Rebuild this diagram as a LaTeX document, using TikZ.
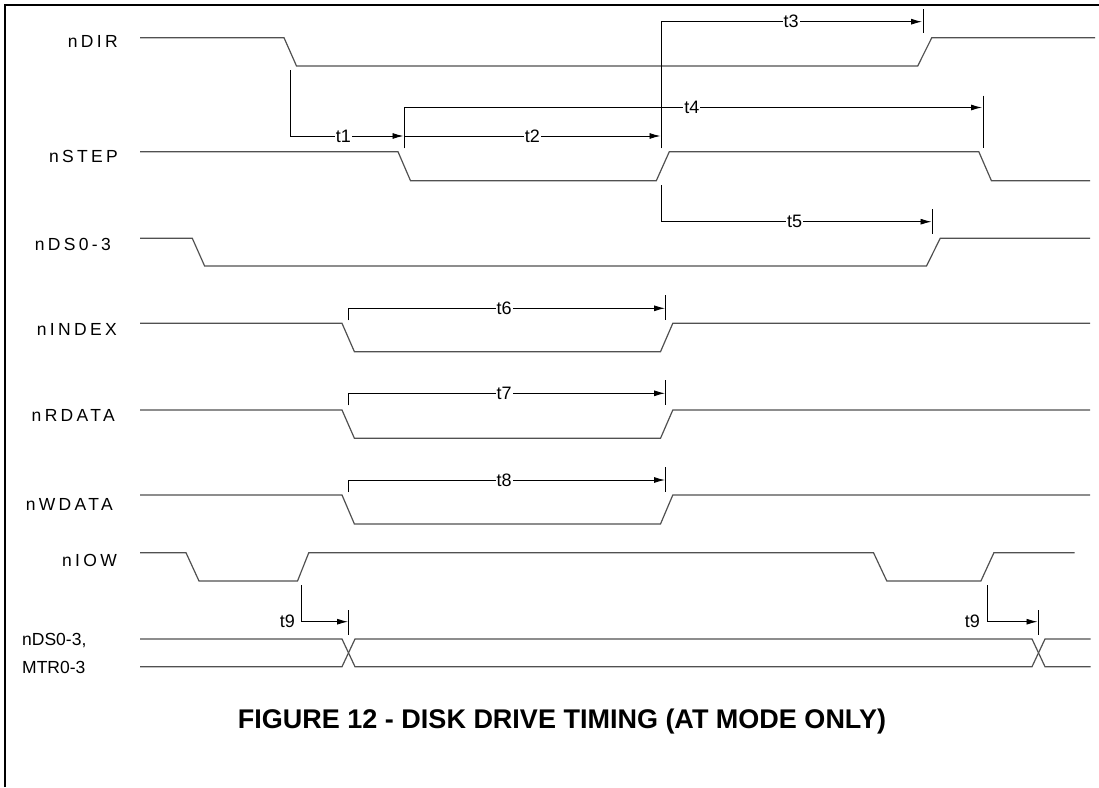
\documentclass[tikz,border=0pt]{standalone}
\usepackage{fontspec}
\setmainfont{Liberation Sans}
\newfontfamily\sigfont[LetterSpace=19]{Liberation Sans}
\usepackage{tikz}
\usetikzlibrary{arrows.meta}

\definecolor{sigcol}{RGB}{80,80,80}
\tikzset{
  sig/.style={draw=sigcol,line width=1.2pt},
  dimline/.style={draw=black,line width=0.9pt},
  dimarrow/.style={dimline,-{Latex[length=11pt,width=6pt]}},
  tlab/.style={fill=white,inner sep=1pt,font=\fontsize{18}{18}\selectfont},
  siglab/.style={anchor=base east,inner sep=0pt,font=\sigfont\fontsize{17.5}{18}\selectfont},
  buslab/.style={anchor=base west,inner sep=0pt,font=\fontsize{17.5}{18}\selectfont}
}

\begin{document}
\begin{tikzpicture}[x=1pt,y=-1pt]
  \useasboundingbox (0,0) rectangle (1099,787);
  \draw[line width=2pt] (5,787) -- (5,5) -- (1099,5);

  % signal names
  \node[siglab] (ndir) at (118,47.7) {nDIR};
  \node[siglab] (nstep) at (118,162.7) {nSTEP};
  \node[siglab] (nds) at (111,250) {nDS0-3};
  \node[siglab] (nindex) at (117,335) {nINDEX};
  \node[siglab] (nrdata) at (115,421.7) {nRDATA};
  \node[siglab] (nwdata) at (113,510.7) {nWDATA};
  \node[siglab] (niow) at (117,566) {nIOW};
  \node[buslab] (busa) at (22,645.3) {nDS0-3,};
  \node[buslab] (busb) at (22,673) {MTR0-3};

  % waveforms
  \draw[sig] (140,37.7) -- (284,37.7) -- (296.5,66) -- (917.7,66) -- (931.8,37.7) -- (1095,37.7);
  \draw[sig] (140,151.7) -- (398,151.7) -- (410.5,180.7) -- (656.3,180.7) -- (669.3,151.7)
    -- (978.8,151.7) -- (991.4,180.7) -- (1090,180.7);
  \draw[sig] (140,238.3) -- (192.3,238.3) -- (204.6,266) -- (926.5,266) -- (940.2,238.3) -- (1090,238.3);
  \foreach \hi/\lo in {323.3/351.7,410/438.3,495/524}
    \draw[sig] (140,\hi) -- (342,\hi) -- (354.4,\lo) -- (660.5,\lo) -- (672.8,\hi) -- (1090,\hi);
  \draw[sig] (140,552.7) -- (186,552.7) -- (199,581) -- (297.5,581) -- (308.8,552.7)
    -- (873.5,552.7) -- (886.8,581) -- (980.9,581) -- (993.9,552.7) -- (1074.6,552.7);
  \draw[sig] (140,639) -- (342,639) -- (355,666.7) -- (1032,666.7) -- (1045,639) -- (1090.7,639);
  \draw[sig] (140,666.7) -- (342,666.7) -- (355,639) -- (1032,639) -- (1045,666.7) -- (1090.7,666.7);

  % timing marks
  \draw[dimarrow] (290.5,70) |- (403.5,136);
  \node[tlab] (t1) at (343.3,136) {t1};
  \draw[dimarrow] (404,148.3) |- (982,107.5);
  \draw[dimline] (983.3,95.7) -- (983.3,148.3);
  \node[tlab] (t4) at (691.8,107.5) {t4};
  \draw[dimarrow] (404,136) -- (660.5,136);
  \node[tlab] (t2) at (532.3,136) {t2};
  \draw[dimarrow] (661.6,148.3) |- (922,21.7);
  \draw[dimline] (923,9.3) -- (923,33.3);
  \node[tlab] (t3) at (791,21.7) {t3};
  \draw[dimarrow] (661.6,185) |- (931.5,221.7);
  \draw[dimline] (932.5,209.3) -- (932.5,234);
  \node[tlab] (t5) at (794.6,221.7) {t5};
  \foreach \y/\lab in {308.3/t6,393.3/t7,480/t8}{
    \draw[dimarrow] (348.4,\y+12) |- (665,\y);
    \draw[dimline] (665.8,\y-13) -- (665.8,\y+12);
    \node[tlab] (\lab) at (504,\y) {\lab};
  }
  \draw[dimarrow] (301.8,585) |- (348,621.7);
  \draw[dimline] (348.5,610) -- (348.5,635);
  \node[tlab,anchor=east] (t9a) at (296,621.7) {t9};
  \draw[dimarrow] (987.5,585) |- (1037.5,621.7);
  \draw[dimline] (1038.5,610) -- (1038.5,635);
  \node[tlab,anchor=east] (t9b) at (981,621.7) {t9};

  \node[font=\bfseries\fontsize{27}{27}\selectfont] (title) at (562,722)
    {FIGURE 12 - DISK DRIVE TIMING (AT MODE ONLY)};
\end{tikzpicture}
\end{document}
